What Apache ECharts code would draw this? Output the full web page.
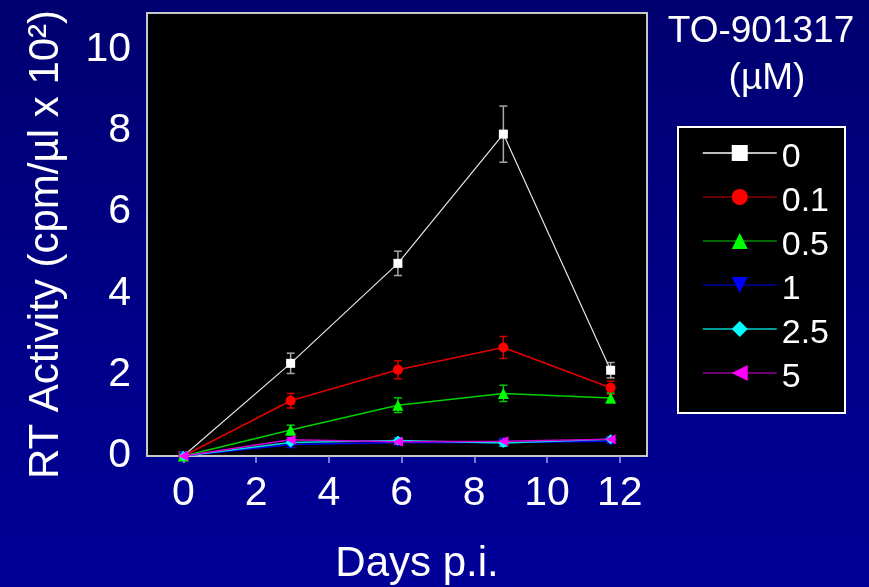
<!DOCTYPE html>
<html>
<head>
<meta charset="utf-8">
<script src="https://cdn.jsdelivr.net/npm/echarts@6/dist/echarts.min.js"></script>
<style>
  html, body { margin: 0; padding: 0; }
  #chart {
    width: 869px; height: 587px;
    background: linear-gradient(to bottom, #000070 0%, #000088 55%, #000098 100%);
  }
</style>
</head>
<body>
<div id="chart"></div>
<script>
// Sampling days (post infection) and RT activity per TO-901317 concentration
const days = [0, 2.95, 5.9, 8.8, 11.75];
const concentrations = ['0', '0.1', '0.5', '1', '2.5', '5'];

const rt0   = [0, 2.28, 4.74, 7.92, 2.11];
const rt01  = [0, 1.36, 2.12, 2.67, 1.68];
const rt05  = [0, 0.64, 1.25, 1.54, 1.43];
const rt1   = [0, 0.28, 0.33, 0.33, 0.36];
const rt25  = [0, 0.33, 0.38, 0.32, 0.41];
const rt5   = [0, 0.40, 0.35, 0.36, 0.41];

// Standard deviations (± around each mean)
const sd0   = [0, 0.25, 0.30, 0.69, 0.19];
const sd01  = [0, 0.18, 0.22, 0.27, 0.16];
const sd05  = [0, 0.12, 0.18, 0.20, 0.12];
const sd1   = [0, 0.07, 0.05, 0.06, 0.05];
const sd25  = [0, 0.05, 0.06, 0.08, 0.05];
const sd5   = [0, 0.05, 0.06, 0.07, 0.06];

const xTickValues = [0, 2, 4, 6, 8, 10, 12];
const yTickLabels = [0, 2, 4, 6, 8, 10];
const yTickMarks  = [0, 1, 2, 3, 4, 5, 6, 7, 8, 9, 10];

const means = [rt0, rt01, rt05, rt1, rt25, rt5];
const sds   = [sd0, sd01, sd05, sd1, sd25, sd5];

const FONT = '"Liberation Sans", Arial, sans-serif';

const styles = [
  { line: '#e6e6e6', fill: '#ffffff', err: '#a8a8a8', legendLine: '#ffffff', symbol: 'rect',     rotate: 0,   size: 9,  width: 1.2 },
  { line: '#e00000', fill: '#ff0000', err: '#d00000', legendLine: '#8a0000', symbol: 'circle',   rotate: 0,   size: 10, width: 1.5 },
  { line: '#00d000', fill: '#00ff00', err: '#00c800', legendLine: '#008a00', symbol: 'triangle', rotate: 0,   size: 11, width: 1.5 },
  { line: '#0000ff', fill: '#0000ff', err: '#0000ff', legendLine: '#0000a0', symbol: 'triangle', rotate: 180, size: 9,  width: 1.5 },
  { line: '#00e0e0', fill: '#00ffff', err: '#00e0e0', legendLine: '#00d0d0', symbol: 'diamond',  rotate: 0,   size: 10, width: 1.5 },
  { line: '#d000d0', fill: '#ff00ff', err: '#ff00ff', legendLine: '#900090', symbol: 'triangle', rotate: 90,  size: 10, width: 1.5 }
];

const series = [];

// error bars first so markers sit on top
means.forEach((m, i) => {
  const st = styles[i];
  series.push({
    type: 'custom',
    name: 'sd ' + concentrations[i],
    z: 2,
    silent: true,
    data: days.map((d, k) => [d, m[k] - sds[i][k], m[k] + sds[i][k]]),
    renderItem: function (params, api) {
      const x = api.value(0);
      const lo = api.coord([x, api.value(1)]);
      const hi = api.coord([x, api.value(2)]);
      const cap = 4;
      const s = { stroke: st.err, lineWidth: 1.5 };
      return {
        type: 'group',
        children: [
          { type: 'line', shape: { x1: lo[0], y1: lo[1], x2: hi[0], y2: hi[1] }, style: s },
          { type: 'line', shape: { x1: lo[0] - cap, y1: lo[1], x2: lo[0] + cap, y2: lo[1] }, style: s },
          { type: 'line', shape: { x1: hi[0] - cap, y1: hi[1], x2: hi[0] + cap, y2: hi[1] }, style: s }
        ]
      };
    }
  });
});

means.forEach((m, i) => {
  const st = styles[i];
  series.push({
    type: 'line',
    name: concentrations[i],
    z: 3,
    data: days.map((d, k) => [d, m[k]]),
    symbol: st.symbol,
    symbolRotate: st.rotate,
    symbolSize: st.size,
    showAllSymbol: true,
    lineStyle: { color: st.line, width: st.width },
    itemStyle: { color: st.fill },
    emphasis: { disabled: true },
    animation: false
  });
});

const chart = echarts.init(document.getElementById('chart'), null, { renderer: 'canvas' });

chart.setOption({
  animation: false,
  backgroundColor: 'transparent',
  textStyle: { fontFamily: FONT },
  grid: {
    left: 147, top: 13, width: 500, height: 443,
    outerBoundsMode: 'none',
    containLabel: false,
    show: true, backgroundColor: '#000000',
    borderColor: '#c8c8c8', borderWidth: 2
  },
  xAxis: {
    type: 'value',
    min: -1, max: 12.75,
    name: 'Days p.i.',
    nameLocation: 'middle',
    nameGap: 87,
    nameTextStyle: { color: '#ffffff', fontSize: 42, fontFamily: FONT, padding: [0, 0, 0, 40] },
    axisLine: { show: false },
    splitLine: { show: false },
    axisTick: { show: true, customValues: xTickValues, length: 7, lineStyle: { color: '#a0a0ee', width: 1.5 } },
    axisLabel: { customValues: xTickValues, color: '#ffffff', fontSize: 41, fontFamily: FONT, margin: 17 }
  },
  yAxis: {
    type: 'value',
    min: 0, max: 10.9,
    name: 'RT Activity (cpm/µl x 10²)',
    nameLocation: 'middle',
    nameGap: 80,
    nameRotate: 90,
    nameTextStyle: { color: '#ffffff', fontSize: 42, fontFamily: FONT, padding: [0, 20, 0, 0] },
    axisLine: { show: false },
    splitLine: { show: false },
    axisTick: { show: true, customValues: yTickMarks, length: 5, lineStyle: { color: '#000000', width: 1.5 } },
    axisLabel: { customValues: yTickLabels, color: '#ffffff', fontSize: 41, fontFamily: FONT, margin: 16 }
  },
  legend: {
    orient: 'vertical',
    left: 678, top: 127,
    itemWidth: 74, itemHeight: 20, itemGap: 0,
    backgroundColor: '#000000',
    borderColor: '#ffffff', borderWidth: 2, borderRadius: 0,
    padding: [4, 16, 18, 24],
    selectedMode: false,
    formatter: '{t|{name}}',
    textStyle: {
      color: '#ffffff', fontSize: 34, fontFamily: FONT,
      rich: { t: { color: '#ffffff', fontSize: 34, fontFamily: FONT, lineHeight: 34, padding: [10, 0, 0, 0] } }
    },
    data: concentrations.map((c, i) => ({
      name: c,
      lineStyle: { color: styles[i].legendLine, width: 1.5 }
    }))
  },
  graphic: [
    { type: 'text', x: 761, y: 32, style: { text: 'TO-901317', fill: '#ffffff', font: '37px ' + FONT, textAlign: 'center', textVerticalAlign: 'middle' } },
    { type: 'text', x: 767, y: 79, style: { text: '(µM)', fill: '#ffffff', font: '37px ' + FONT, textAlign: 'center', textVerticalAlign: 'middle' } }
  ],
  series: series
});
</script>
</body>
</html>
